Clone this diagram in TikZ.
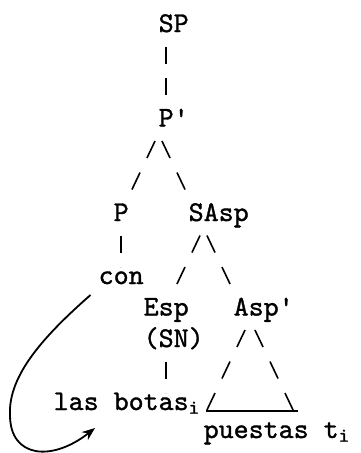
\documentclass[tikz,border=0pt]{standalone}
\usepackage{fontspec}
\newfontfamily\typewriter{lmmono10-regular.otf}[FakeBold=1.2]
\usetikzlibrary{arrows.meta}

\tikzset{
  word/.style={anchor=base west, inner sep=0pt, font=\typewriter\fontsize{28.57}{28.57}\selectfont},
  % typed branches: one short stroke per line of text
  stem/.style={line width=1.6pt, shorten <=8.5pt, shorten >=8.5pt, dash pattern=on 17pt off 14.5pt, dash phase=17pt},
  limb/.style={line width=1.6pt, shorten <=9.4pt, shorten >=9.4pt, dash pattern=on 18.8pt off 16.1pt, dash phase=18.8pt},
  move/.style={line width=1.8pt, -{Stealth[length=13pt,width=10pt]}},
}

\begin{document}
\begin{tikzpicture}[x=1pt,y=1pt,yscale=-1,xscale=1]
  \useasboundingbox (0,0) rectangle (361,453);

  % Text Node
  \node[word] (SP) at (158.5,32) {SP};
  % Text Node
  \node[word] (Pbar) at (158.5,126.5) {P'};
  % Text Node
  \node[word] (P) at (113.5,221) {P};
  % Text Node
  \node[word] (SAsp) at (188.5,221) {SAsp};
  % Text Node
  \node[word] (con) at (98.5,284) {con};
  % Text Node
  \node[word] (Esp) at (143.5,315.5) {Esp};
  % Text Node
  \node[word] (Aspbar) at (233.5,315.5) {Asp'};
  % Text Node
  \node[word] (SN) at (143.5,347) {(SN)};
  % Text Node
  \node[word] (botas) at (53.5,410) {las botas\textsubscript{i}};
  % Text Node
  \node[word] (puestas) at (203.5,438) {puestas t\textsubscript{i}};

  % Branches
  \draw[stem] ([shift={(7.5,-8.5)}]SP.base west) -- ([shift={(7.5,-8.5)}]Pbar.base west);
  \draw[limb] ([shift={(7.5,-8.5)}]Pbar.base west) -- ([shift={(7.5,-8.5)}]P.base west);
  \draw[limb] ([shift={(-7.5,-8.5)}]Pbar.base west) -- ([shift={(7.5,-8.5)}]SAsp.base west);
  \draw[stem] ([shift={(7.5,-8.5)}]P.base west) -- ([shift={(22.5,-8.5)}]con.base west);
  \draw[limb] ([shift={(22.5,-8.5)}]SAsp.base west) -- ([shift={(22.5,-8.5)}]Esp.base west);
  \draw[limb] ([shift={(7.5,-8.5)}]SAsp.base west) -- ([shift={(7.5,-8.5)}]Aspbar.base west);
  \draw[stem] ([shift={(22.5,-8.5)}]SN.base west) -- ([shift={(112.5,-8.5)}]botas.base west);

  % Triangle under Asp'
  \draw[limb] ([shift={(22.5,-8.5)}]Aspbar.base west) -- ([shift={(142.5,23)}]botas.base west);
  \draw[limb] ([shift={(10.5,-8.5)}]Aspbar.base west) -- ([shift={(250.5,23)}]botas.base west);
  \draw[line width=1.6pt] ([shift={(152.5,1)}]botas.base west) -- ([shift={(244.5,1)}]botas.base west);

  % Movement arrow
  \draw[move] ([shift={(-8,11)}]con.base west) .. controls (45,335) and (8,375) .. (10,415)
    .. controls (10,458) and (52,462) .. ([shift={(41.5,18)}]botas.base west);
\end{tikzpicture}
\end{document}
